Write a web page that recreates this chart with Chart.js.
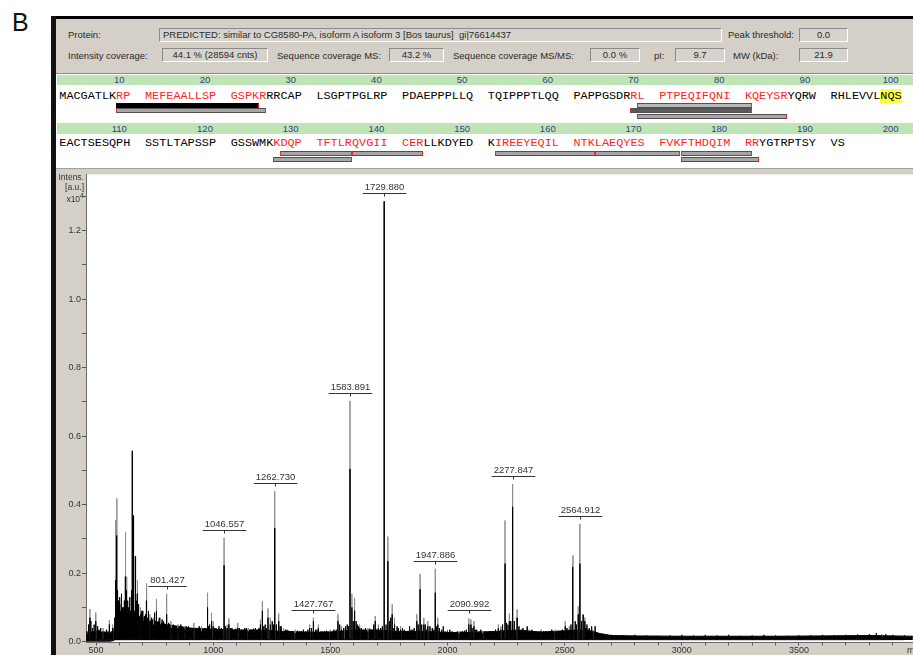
<!DOCTYPE html>
<html><head><meta charset="utf-8">
<script src="https://cdn.jsdelivr.net/npm/chart.js@4.4.1/dist/chart.umd.min.js"></script>
<style>
html,body{margin:0;padding:0;background:#fff;}
#wrap{position:relative;width:913px;height:655px;overflow:hidden;font-family:"Liberation Sans",Arial,sans-serif;color:#2a2a2a;}
.lbl{position:absolute;font-size:9.5px;line-height:14px;height:14px;white-space:nowrap;color:#2a2a2a;}
.box{position:absolute;height:14px;box-sizing:border-box;border:1px solid;border-color:#8a8a8a #ffffff #ffffff #8a8a8a;font-size:9.5px;line-height:12px;text-align:center;white-space:nowrap;color:#2a2a2a;background:#d6d3cc;overflow:hidden;}
.num{position:absolute;font-size:9.5px;line-height:10px;color:#34408c;transform:translateX(-50%);white-space:nowrap;}
.seq{position:absolute;font-family:"Liberation Mono","DejaVu Sans Mono",monospace;font-size:11.83px;line-height:14px;white-space:pre;color:#000;}
.bar{position:absolute;box-sizing:border-box;height:5px;border-top:1px solid #505050;border-bottom:1px solid #505050;border-left:1px solid #ff2020;border-right:1px solid #ff2020;}
.yt{position:absolute;font-size:8.5px;line-height:10px;color:#333;text-align:right;white-space:nowrap;}
</style></head>
<body>
<div id="wrap">
  <div style="position:absolute;left:12px;top:10px;font-size:25px;line-height:25px;color:#111;">B</div>
  <div style="position:absolute;left:52px;top:16px;width:861px;height:3px;background:#000;"></div>
  <div style="position:absolute;left:51px;top:16px;width:5px;height:639px;background:#111;"></div>
  <div style="position:absolute;left:56px;top:19px;width:857px;height:54px;background:#d4d0c8;"></div>
  <div style="position:absolute;left:56px;top:73px;width:857px;height:1px;background:#8a8a8a;"></div>
  <div style="position:absolute;left:56px;top:74px;width:857px;height:94px;background:#fff;"></div>
  <div style="position:absolute;left:57px;top:75px;width:856px;height:10px;background:#bfe4b5;"></div>
  <div style="position:absolute;left:57px;top:123px;width:856px;height:11px;background:#bfe4b5;"></div>

  <div class="lbl" style="left:68px;top:28px;">Protein:</div>
  <div class="box" style="left:159px;top:28px;width:563px;text-align:left;padding-left:3px;">PREDICTED: similar to CG8580-PA, isoform A isoform 3 [Bos taurus]&nbsp; gi|76614437</div>
  <div class="lbl" style="left:728px;top:28px;">Peak threshold:</div>
  <div class="box" style="left:799px;top:28px;width:49px;">0.0</div>

  <div class="lbl" style="left:68px;top:48.5px;">Intensity coverage:</div>
  <div class="box" style="left:162px;top:48px;width:106px;">44.1 % (28594 cnts)</div>
  <div class="lbl" style="left:277px;top:48.5px;">Sequence coverage MS:</div>
  <div class="box" style="left:389px;top:48px;width:55px;">43.2 %</div>
  <div class="lbl" style="left:453px;top:48.5px;">Sequence coverage MS/MS:</div>
  <div class="box" style="left:590px;top:48px;width:50px;">0.0 %</div>
  <div class="lbl" style="left:654px;top:48.5px;">pI:</div>
  <div class="box" style="left:675px;top:48px;width:50px;">9.7</div>
  <div class="lbl" style="left:733px;top:48.5px;">MW (kDa):</div>
  <div class="box" style="left:799px;top:48px;width:49px;">21.9</div>

  <div id="seqpanel"></div>

  <canvas id="c" width="857" height="487" style="position:absolute;left:56px;top:168px;width:857px;height:487px;"></canvas>
  <div class="yt" style="right:829px;top:171.5px;">Intens.</div>
  <div class="yt" style="right:829px;top:181.5px;">[a.u.]</div>
  <div class="yt" style="right:829px;top:193.5px;">x10<sup style="font-size:7px;vertical-align:4px;line-height:0;">4</sup></div>
</div>
<script>
// ---------------- data ----------------
const seqBlocks = ["MACGATLKRP","MEFEAALLSP","GSPKRRRCAP","LSGPTPGLRP","PDAEPPPLLQ","TQIPPPTLQQ","PAPPGSDRRL","PTPEQIFQNI","KQEYSRYQRW","RHLEVVLNQS",
                   "EACTSESQPH","SSTLTAPSSP","GSSWMKKDQP","TFTLRQVGII","CERLLKDYED","KIREEYEQIL","NTKLAEQYES","FVKFTHDQIM","RRYGTRPTSY","VS"];
const seqNumbers = [10,20,30,40,50,60,70,80,90,100,110,120,130,140,150,160,170,180,190,200];
const coveredRanges = [[9,25],[69,86],[127,143],[152,182]];
const highlightRange = [98,100];
// [start, end, level, style]
const peptideBars = [[9,24,0,'black'],[9,25,1,'grey'],[70,81,0,'light'],[69,81,1,'dark'],[70,86,2,'grey'],
                     [128,135,0,'grey'],[136,143,0,'grey'],[127,135,1,'grey'],
                     [152,163,0,'grey'],[164,173,0,'grey'],[174,181,0,'grey'],[174,182,1,'grey']];

// spectrum peaks: m/z, raw (grey) intensity, processed (black) intensity, x10^4 a.u.
const peakMz    = [474,499,530,557,571,584,589,603,612,626,631,640,655,658,667,677,690,700,716,730,745,758,775,801.427,820,850,880,917.6,950,976,993,1000,1046.557,1060,1067,1105,1150,1201.6,1210,1234,1244,1262.730,1279.7,1300,1350,1411.8,1427.767,1449,1500,1532.5,1548,1558,1583.891,1592,1603.5,1625,1660,1691.7,1705,1729.880,1745.5,1764,1774,1800,1869,1883,1899,1916,1947.886,1958.5,2000,2050,2090.992,2100,2113,2150,2217,2228,2245.6,2264,2277.847,2297,2350,2400,2460,2502.6,2519.6,2535.4,2558,2564.912,2579,2586,2620,3853];
const peakRaw   = [0.095,0.085,0.04,0.063,0.05,0.354,0.418,0.11,0.08,0.32,0.19,0.09,0.557,0.368,0.25,0.18,0.10,0.09,0.17,0.08,0.07,0.125,0.07,0.14,0.06,0.05,0.045,0.055,0.045,0.143,0.084,0.06,0.303,0.05,0.068,0.055,0.04,0.065,0.118,0.097,0.07,0.439,0.082,0.04,0.035,0.05,0.07,0.05,0.035,0.08,0.045,0.04,0.703,0.14,0.128,0.05,0.04,0.075,0.05,1.285,0.307,0.109,0.07,0.045,0.08,0.198,0.07,0.06,0.213,0.07,0.035,0.03,0.068,0.065,0.06,0.03,0.05,0.045,0.354,0.082,0.46,0.094,0.035,0.035,0.035,0.06,0.045,0.252,0.103,0.344,0.079,0.07,0.035,0.022];
const peakProc  = [0.07,0.06,0.03,0.05,0.04,0.18,0.31,0.08,0.06,0.19,0.15,0.07,0.557,0.368,0.25,0.14,0.08,0.07,0.12,0.06,0.05,0.09,0.05,0.08,0.04,0.04,0.035,0.04,0.03,0.10,0.06,0.045,0.223,0.04,0.05,0.04,0.03,0.05,0.09,0.07,0.05,0.332,0.06,0.03,0.025,0.04,0.06,0.04,0.03,0.06,0.035,0.03,0.504,0.10,0.09,0.04,0.03,0.06,0.04,1.285,0.235,0.08,0.05,0.035,0.06,0.153,0.05,0.045,0.143,0.05,0.03,0.025,0.05,0.05,0.045,0.025,0.04,0.035,0.228,0.06,0.394,0.07,0.03,0.03,0.03,0.045,0.035,0.218,0.08,0.228,0.079,0.06,0.03,0.018];
const labelMz   = [801.427,1046.557,1262.730,1427.767,1583.891,1729.880,1947.886,2090.992,2277.847,2564.912];

// small noise spikes read along the baseline
const noiseMz = [462,468,478,485,492,507,513,520,538,545,551,565,580,594,598,607,617,621,636,645,650,662,672,683,695,705,711,722,737,750,765,770,782,790,810,830,840,862,870,895,905,930,940,962,985,1012,1025,1035,1080,1090,1120,1135,1165,1180,1190,1222,1252,1270,1290,1315,1330,1370,1385,1395,1420,1437,1460,1475,1490,1515,1540,1565,1572,1598,1610,1615,1640,1650,1675,1685,1715,1738,1752,1758,1785,1790,1815,1830,1845,1858,1875,1890,1905,1925,1935,1965,1975,1990,2020,2035,2065,2080,2105,2125,2135,2175,2190,2205,2235,2252,2258,2270,2285,2305,2315,2330,2370,2385,2420,2435,2445,2475,2490,2510,2527,2545,2550,2572,2595,2605,2640,2660,2700,2750,2800,2850,2900,2950,3000,3050,3100,3150,3200,3250,3300,3350,3400,3450,3500,3550,3600,3650,3700,3750,3800,3830,3870,3900,3950,
                 583,587,592,596,601,605,610,614,619,624,629,634,638,643,648,653,660,664,670,675,680,686,692,698,703,708,714,719,725,733,740,747,754,762,768,778,786,795,805,815,825,835,845,855,866,875,885,890,900,912,925,935,945,956,968,980,1005,1018,1052,1075,1097,1112,1128,1142,1158,1172,1196,1216,1228,1258,1286,1308,1322,1340,1360,1378,1404,1443,1468,1483,1508,1525,1555,1578,1620,1632,1668,1698,1722,1768,1808,1838,1852,1880,1910,1942,1952,1982,2010,2042,2058,2072,2095,2118,2142,2160,2198,2212,2222,2240,2290,2322,2340,2360,2395,2410,2428,2452,2468,2482,2498,2515,2532,2540,2568,2590,2615,2630];
const noiseH  = [0.03,0.05,0.06,0.04,0.05,0.045,0.035,0.04,0.03,0.035,0.03,0.03,0.07,0.09,0.12,0.085,0.10,0.12,0.09,0.11,0.095,0.10,0.12,0.085,0.09,0.075,0.08,0.09,0.07,0.085,0.06,0.07,0.065,0.06,0.055,0.05,0.045,0.05,0.04,0.045,0.04,0.04,0.045,0.04,0.05,0.04,0.045,0.04,0.04,0.035,0.035,0.04,0.035,0.04,0.035,0.05,0.06,0.05,0.045,0.035,0.03,0.03,0.035,0.03,0.04,0.035,0.03,0.03,0.03,0.035,0.05,0.045,0.05,0.06,0.06,0.05,0.035,0.04,0.035,0.05,0.04,0.05,0.06,0.07,0.045,0.04,0.035,0.03,0.035,0.04,0.05,0.05,0.05,0.045,0.04,0.04,0.035,0.03,0.03,0.025,0.03,0.035,0.04,0.035,0.03,0.025,0.03,0.035,0.05,0.055,0.05,0.06,0.06,0.045,0.035,0.03,0.03,0.028,0.03,0.028,0.035,0.03,0.035,0.04,0.05,0.06,0.05,0.06,0.05,0.04,0.025,0.02,0.02,0.018,0.02,0.018,0.017,0.018,0.02,0.018,0.02,0.018,0.02,0.017,0.018,0.02,0.018,0.017,0.018,0.019,0.02,0.019,0.02,0.021,0.022,0.025,0.022,0.02,0.019,
                 0.10,0.13,0.15,0.11,0.13,0.09,0.14,0.10,0.09,0.13,0.11,0.12,0.10,0.13,0.09,0.15,0.12,0.09,0.10,0.08,0.11,0.07,0.08,0.09,0.06,0.07,0.06,0.07,0.08,0.06,0.065,0.05,0.06,0.055,0.05,0.05,0.045,0.05,0.045,0.05,0.04,0.045,0.04,0.045,0.04,0.04,0.045,0.035,0.04,0.035,0.04,0.035,0.04,0.035,0.04,0.045,0.04,0.035,0.045,0.04,0.038,0.04,0.035,0.04,0.035,0.038,0.04,0.045,0.04,0.05,0.045,0.035,0.032,0.03,0.032,0.03,0.035,0.035,0.03,0.032,0.03,0.035,0.04,0.045,0.045,0.04,0.038,0.035,0.045,0.04,0.04,0.045,0.035,0.032,0.035,0.035,0.045,0.045,0.035,0.03,0.03,0.032,0.028,0.035,0.035,0.03,0.03,0.028,0.028,0.032,0.03,0.04,0.045,0.035,0.03,0.03,0.028,0.03,0.028,0.03,0.03,0.032,0.032,0.035,0.035,0.04,0.045,0.045,0.05,0.045,0.03,0.028];

// dense baseline band (lower / upper edge)
const bandMz   = [458,480,500,520,560,575,585,600,650,700,750,800,850,900,1000,1100,1200,1300,1400,1500,1600,1700,1800,1900,2000,2100,2200,2300,2400,2500,2600,2650,2700,2800,3000,3200,3400,3600,3800,3900,3986];
const bandLow  = [0.000,0.000,0.000,0.000,0.000,0.002,0.007,0.008,0.008,0.008,0.008,0.008,0.008,0.008,0.008,0.008,0.008,0.008,0.008,0.008,0.008,0.008,0.008,0.008,0.008,0.008,0.008,0.008,0.008,0.008,0.008,0.006,0.005,0.005,0.005,0.005,0.005,0.005,0.005,0.005,0.005];
const bandHigh = [0.018,0.028,0.032,0.028,0.025,0.032,0.060,0.075,0.080,0.070,0.060,0.050,0.045,0.040,0.036,0.034,0.034,0.030,0.028,0.028,0.034,0.034,0.030,0.030,0.027,0.027,0.030,0.034,0.028,0.032,0.034,0.024,0.018,0.017,0.016,0.016,0.016,0.017,0.018,0.017,0.016];
const stickBase = 0.006;

const xTickLabels = ['500','1000','1500','2000','2500','3000','3500'];
const yTickLabels = ['0.0','0.2','0.4','0.6','0.8','1.0','1.2'];

// ---------------- sequence panel ----------------
const panel = document.getElementById('seqpanel');
const CH = 7.1, BLK = 85.7, X0 = 59.3;
const rowTextTop = [89, 136.3], rowNumTop = [75, 123.5];
const barTops = [[102.5,108.3,114.3],[150.5,156.5]];
function resX(i){ const r=(i-1)%100; return X0 + Math.floor(r/10)*BLK + (r%10)*CH; }
function covered(i){ return coveredRanges.some(([a,b])=>i>=a&&i<=b); }
seqBlocks.forEach((blk,bi)=>{
  const row = bi<10?0:1, col = bi%10;
  const d = document.createElement('div'); d.className='seq';
  d.style.left = (X0+col*BLK)+'px'; d.style.top = rowTextTop[row]+'px';
  let html='';
  for(let k=0;k<blk.length;k++){
    const i = bi*10+k+1;
    let st = covered(i)?'color:#ff2424;':'';
    if(i>=highlightRange[0]&&i<=highlightRange[1]) st+='background:#ffff3c;';
    html += st?`<span style="${st}">${blk[k]}</span>`:blk[k];
  }
  d.innerHTML = html; panel.appendChild(d);
  const n = document.createElement('div'); n.className='num';
  n.style.left=(X0+col*BLK+60)+'px'; n.style.top=rowNumTop[row]+'px';
  n.textContent = seqNumbers[bi]; panel.appendChild(n);
});
const barFill = {black:'#000', grey:'#a6a6a6', light:'#b8b8b8', dark:'#5a5a5a'};
peptideBars.forEach(([a,b,lvl,s])=>{
  const row = a<=100?0:1;
  const e = document.createElement('div'); e.className='bar';
  const x1 = resX(a), x2 = resX(b)+CH;
  e.style.left=x1+'px'; e.style.width=(x2-x1)+'px'; e.style.top=barTops[row][lvl]+'px';
  e.style.background=barFill[s];
  if(s==='black'){e.style.borderTopColor='#000';e.style.borderBottomColor='#000';e.style.borderLeftColor='#000';}
  panel.appendChild(e);
});

// ---------------- spectrum ----------------
const greyData=[], blackData=[];
peakMz.forEach((m,i)=>{ greyData.push({x:m,y:stickBase},{x:m,y:peakRaw[i]},{x:m,y:stickBase}); });
const blackSticks = peakMz.map((m,i)=>[m,peakProc[i]]).concat(noiseMz.map((m,i)=>[m,noiseH[i]])).sort((p,q)=>p[0]-q[0]);
blackSticks.forEach(([m,h])=>{ blackData.push({x:m,y:stickBase},{x:m,y:h},{x:m,y:stickBase}); });
const bandLowData = bandMz.map((m,i)=>({x:m,y:bandLow[i]}));
const bandHighData = bandMz.map((m,i)=>({x:m,y:bandHigh[i]}));

const xTicks=[]; for(let v=500; v<=3900; v+=100) xTicks.push(v);
const yTicks=[]; for(let k=0; k<=13; k++) yTicks.push(k/10);

const bgPlugin = {
  id:'bg',
  beforeDraw(chart){
    const {ctx, chartArea:a} = chart;
    ctx.save();
    ctx.fillStyle='#d4d0c8'; ctx.fillRect(0,0,chart.width,chart.height);
    ctx.fillStyle='#ffffff'; ctx.fillRect(a.left,a.top,a.right-a.left,a.bottom-a.top);
    ctx.fillStyle='#a0a0a0'; ctx.fillRect(0,0,chart.width,1);
    ctx.restore();
  },
  afterDraw(chart){
    const ctx=chart.ctx; ctx.save();
    ctx.font='9px "Liberation Sans"'; ctx.fillStyle='#333'; ctx.textBaseline='middle'; ctx.textAlign='left';
    ctx.fillText('m/z', 851, chart.chartArea.bottom+8);
    ctx.restore();
  }
};
const labelPlugin = {
  id:'peaklabels',
  afterDatasetsDraw(chart){
    const {ctx, scales:{x,y}} = chart;
    ctx.save();
    ctx.font='9.5px "Liberation Sans"'; ctx.fillStyle='#333'; ctx.strokeStyle='#333'; ctx.lineWidth=1;
    ctx.textAlign='center'; ctx.textBaseline='middle';
    labelMz.forEach(m=>{
      const i = peakMz.indexOf(m);
      const px = Math.round(x.getPixelForValue(m))+0.5;
      const top = y.getPixelForValue(peakRaw[i]);
      const ul = Math.round(top-8)+0.5;
      const txt = m.toFixed(3);
      const w = ctx.measureText(txt).width+4;
      ctx.beginPath();
      ctx.moveTo(px-w/2,ul); ctx.lineTo(px+w/2,ul);
      ctx.moveTo(px,ul); ctx.lineTo(px,ul+3);
      ctx.stroke();
      ctx.fillText(txt, px, ul-6);
    });
    ctx.restore();
  }
};

new Chart(document.getElementById('c'), {
  type:'line',
  data:{datasets:[
    {data:bandLowData, borderWidth:0, borderColor:'rgba(0,0,0,0)', pointRadius:0, fill:false, order:4},
    {data:bandHighData, borderWidth:1, borderColor:'#000', backgroundColor:'#000', pointRadius:0, fill:'-1', order:3},
    {data:greyData, borderWidth:1, borderColor:'#8c8c8c', pointRadius:0, fill:false, order:2},
    {data:blackData, borderWidth:1, borderColor:'#000', pointRadius:0, fill:false, order:1}
  ]},
  options:{
    responsive:false, animation:false, devicePixelRatio:1, events:[],
    layout:{padding:{top:5.3,left:0,right:0,bottom:0}},
    elements:{line:{tension:0}},
    plugins:{legend:{display:false}, tooltip:{enabled:false}},
    scales:{
      x:{type:'linear', min:457.3, max:3986.5,
        afterFit(s){ s.height=12.5; },
        afterBuildTicks(s){ s.ticks = xTicks.map(v=>({value:v})); },
        ticks:{autoSkip:false, maxRotation:0, minRotation:0, padding:0, color:'#333',
          font:{size:9, family:'"Liberation Sans"'},
          callback:(v)=>{ const k=xTickLabels.indexOf(String(v)); return k>=0?xTickLabels[k]:''; }},
        grid:{drawOnChartArea:false, drawTicks:true, tickLength:3, color:'#555'},
        border:{display:true, color:'#6a6a6a'}
      },
      y:{type:'linear', min:-0.0023, max:1.3637,
        afterFit(s){ s.width=30; },
        afterBuildTicks(s){ s.ticks = yTicks.map(v=>({value:v})); },
        ticks:{autoSkip:false, padding:1, color:'#333', font:{size:9, family:'"Liberation Sans"'},
          callback:(v)=>{ const k=Math.round(v*10); return k%2===0 && yTickLabels[k/2]!==undefined ? yTickLabels[k/2] : ''; }},
        grid:{drawOnChartArea:false, drawTicks:true, tickLength:4, color:'#555'},
        border:{display:true, color:'#6a6a6a'}
      }
    }
  },
  plugins:[bgPlugin,labelPlugin]
});
</script>
</body></html>
